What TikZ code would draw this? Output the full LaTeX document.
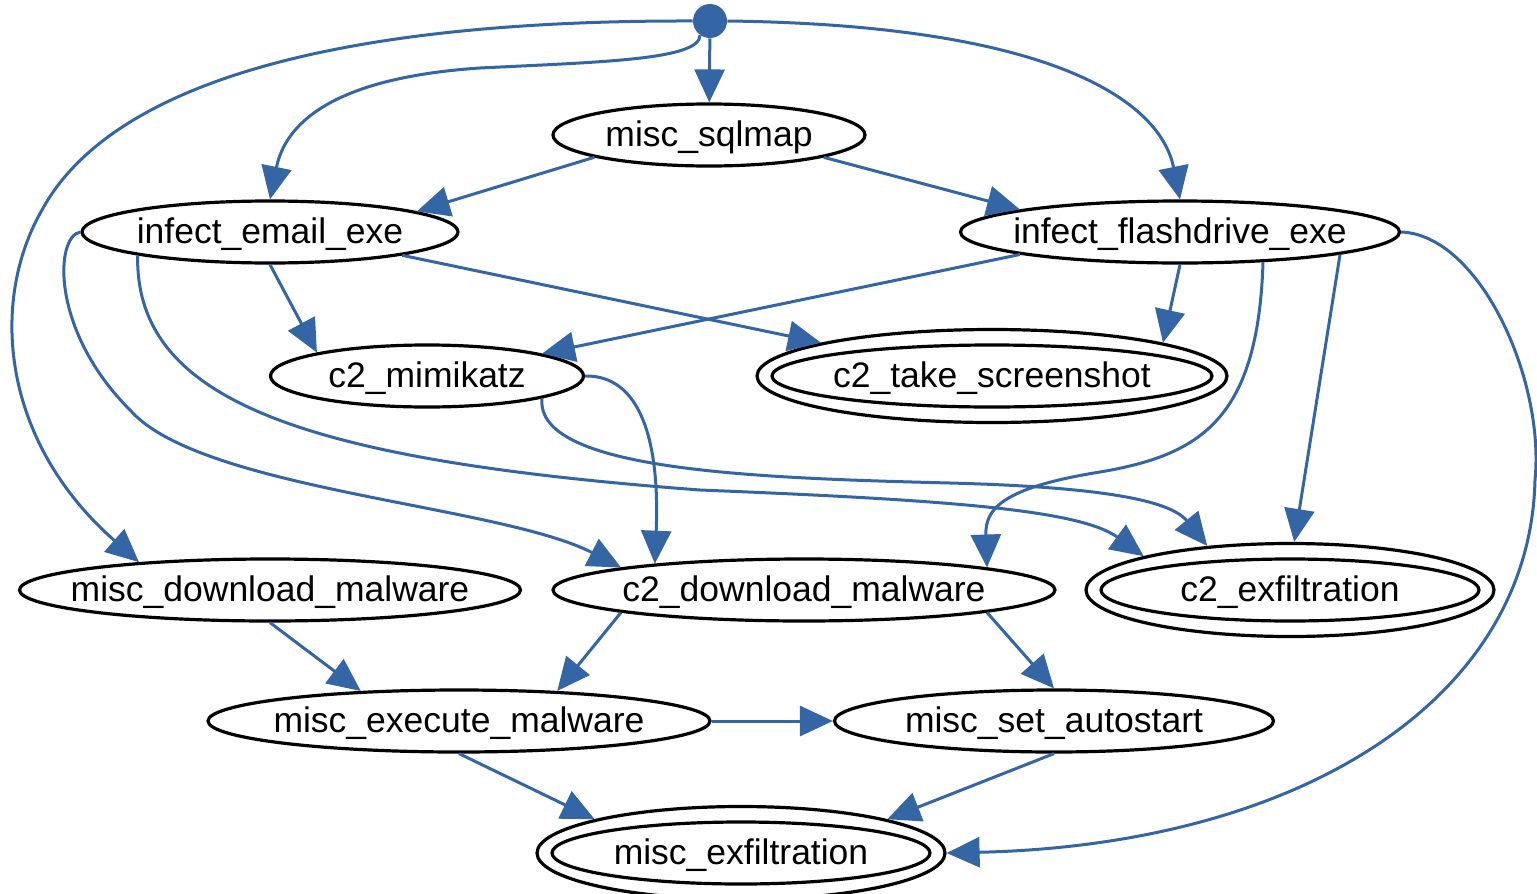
\documentclass[tikz,border=0pt]{standalone}
\usepackage{fontspec}
\setmainfont{Liberation Sans}
\usetikzlibrary{shapes.geometric}
\usetikzlibrary{arrows.meta}
\definecolor{edgeblue}{RGB}{52,101,164}

\tikzset{
    state/.style={ellipse, draw, line width=1.6pt, inner sep=0pt, minimum height=31pt},
    final/.style={state, minimum height=46.5pt},
    lbl/.style={font=\fontsize{17.75}{20}\selectfont, inner sep=0pt, text height=12.5pt, text depth=1.5pt},
    link/.style={draw=edgeblue, line width=1.5pt, -{Triangle[length=16.5pt,width=15pt]}},
}

\begin{document}
\begin{tikzpicture}[x=0.5pt, y=-0.5pt]
    \useasboundingbox (0,0) rectangle (1537,894);
    % start point and states
    \node[circle, fill=edgeblue, inner sep=0pt, minimum size=17pt] (start) at (710,21) {};
    \node[state, minimum width=156pt, label={[lbl]center:misc\_sqlmap}] (sqlmap) at (709,135) {};
    \node[state, minimum width=188pt, label={[lbl]center:infect\_email\_exe}] (email) at (270,232) {};
    \node[state, minimum width=219.5pt, label={[lbl]center:infect\_flashdrive\_exe}] (flash) at (1180,232) {};
    \node[state, minimum width=156.5pt, label={[lbl]center:c2\_mimikatz}] (mimikatz) at (427,376) {};
    \node[final, minimum width=235pt] (shot) at (992,376) {};
    \node[state, minimum width=220pt, label={[lbl]center:c2\_take\_screenshot}] (shotin) at (shot) {};
    \node[state, minimum width=250.5pt, label={[lbl]center:misc\_download\_malware}] (miscdl) at (270,590) {};
    \node[state, minimum width=251pt, label={[lbl]center:c2\_download\_malware}] (c2dl) at (804,590) {};
    \node[final, minimum width=204pt] (c2exfil) at (1290,590) {};
    \node[state, minimum width=189pt, label={[lbl]center:c2\_exfiltration}] (c2exfilin) at (c2exfil) {};
    \node[state, minimum width=251pt, label={[lbl]center:misc\_execute\_malware}] (exec) at (459,721) {};
    \node[state, minimum width=219.5pt, label={[lbl]center:misc\_set\_autostart}] (autostart) at (1054,721) {};
    \node[final, minimum width=204pt] (miscexfil) at (741,853) {};
    \node[state, minimum width=189pt, label={[lbl]center:misc\_exfiltration}] (miscexfilin) at (miscexfil) {};

    % transitions
    \draw[link] (start) -- (sqlmap);
    \draw[link] (start.235) .. controls (700,60) and (600,62) .. (480,68) .. controls (330,78) and (285,125) .. (email.north);
    \draw[link] (start.west) .. controls (330,20) and (110,85) .. (42,210) .. controls (-10,300) and (0,440) .. (miscdl.168);
    \draw[link] (start.east) .. controls (1050,25) and (1160,100) .. (flash.north);
    \draw[link] (sqlmap.191) -- (email.8);
    \draw[link] (sqlmap.-11) -- (flash.172);
    \draw[link] (email.south) -- (mimikatz.168);
    \draw[link] (email.-10) -- (shot.169);
    \draw[link] (email.west) .. controls (55,236) and (50,330) .. (130,410) .. controls (200,490) and (500,505) .. (c2dl.173);
    \draw[link] (email.190) .. controls (135,400) and (300,460) .. (700,490) .. controls (950,500) and (1080,510) .. (c2exfil.167);
    \draw[link] (flash.188) -- (mimikatz.11);
    \draw[link] (flash.south) -- (shot.11);
    \draw[link] (flash.-20) .. controls (1258,420) and (1200,455) .. (1100,472) .. controls (1000,488) and (985,510) .. (c2dl.7);
    \draw[link] (flash.-8) -- (c2exfil.85);
    \draw[link] (flash.east) .. controls (1480,235) and (1545,380) .. (1535,480) .. controls (1530,700) and (1300,845) .. (miscexfil.east);
    \draw[link] (mimikatz.east) .. controls (640,375) and (660,440) .. (c2dl.170);
    \draw[link] (mimikatz.-11) .. controls (535,470) and (750,478) .. (950,483) .. controls (1100,487) and (1170,500) .. (c2exfil.152);
    \draw[link] (miscdl.south) -- (exec.163);
    \draw[link] (c2dl.187) -- (exec.17);
    \draw[link] (c2dl.-7) -- (autostart.north);
    \draw[link] (exec.east) -- (autostart.west);
    \draw[link] (exec.south) -- (miscexfil.167);
    \draw[link] (autostart.south) -- (miscexfil.13);
\end{tikzpicture}
\end{document}
